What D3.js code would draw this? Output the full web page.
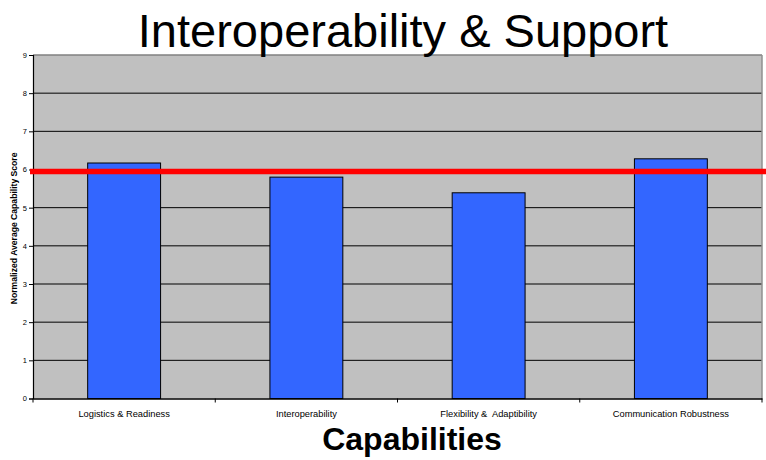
<!DOCTYPE html>
<html>
<head>
<meta charset="utf-8">
<script src="https://cdn.jsdelivr.net/npm/d3@7"></script>
<style>
  html, body { margin: 0; padding: 0; background: #ffffff; }
  svg { display: block; font-family: "Liberation Sans", Arial, Helvetica, sans-serif; }
</style>
</head>
<body>
<svg id="chart" width="766" height="460"></svg>
<script>
// Capability scores
const categories = ["Logistics & Readiness", "Interoperability", "Flexibility &  Adaptibility", "Communication Robustness"];
const scores = [6.17, 5.80, 5.39, 6.28];
const yTicks = [0, 1, 2, 3, 4, 5, 6, 7, 8, 9];
const threshold = 5.95;
const titleText = "Interoperability & Support";
const xTitle = "Capabilities";
const yTitle = "Normalized Average Capability Score";

const FONT = "'Liberation Sans', Arial, sans-serif";
const svg = d3.select("#chart");
const plot = { left: 33, right: 762, top: 55, bottom: 398.5 };

const x = d3.scaleBand().domain(categories).range([plot.left, plot.right]).padding(0);
const y = d3.scaleLinear().domain([0, 9]).range([plot.bottom, plot.top]);

// plot area background
svg.append("rect")
  .attr("x", plot.left).attr("y", plot.top)
  .attr("width", plot.right - plot.left).attr("height", plot.bottom - plot.top)
  .attr("fill", "#c0c0c0");

// horizontal gridlines
svg.append("g").selectAll("line")
  .data(yTicks.filter(d => d > 0 && d < 9))
  .join("line")
  .attr("x1", plot.left).attr("x2", plot.right)
  .attr("y1", d => y(d)).attr("y2", d => y(d))
  .attr("stroke", "#000").attr("stroke-width", 1);

// top and right frame
svg.append("line").attr("x1", plot.left).attr("x2", plot.right)
  .attr("y1", y(9)).attr("y2", y(9)).attr("stroke", "#808080").attr("stroke-width", 1.5);
svg.append("line").attr("x1", plot.right).attr("x2", plot.right)
  .attr("y1", plot.top).attr("y2", plot.bottom).attr("stroke", "#909090").attr("stroke-width", 1.5);

// bars
const barW = x.bandwidth() * 0.4;
svg.append("g").selectAll("rect")
  .data(categories)
  .join("rect")
  .attr("x", d => x(d) + (x.bandwidth() - barW) / 2)
  .attr("y", (d, i) => y(scores[i]))
  .attr("width", barW)
  .attr("height", (d, i) => y(0) - y(scores[i]))
  .attr("fill", "#3366ff")
  .attr("stroke", "#000").attr("stroke-width", 1);

// y axis
const yAxis = svg.append("g")
  .attr("transform", `translate(${plot.left},0)`)
  .call(d3.axisLeft(y).tickValues(yTicks).tickSize(4).tickPadding(2).tickFormat(d3.format("d")));
yAxis.select(".domain").attr("stroke", "#000").attr("stroke-width", 1.2);
yAxis.selectAll(".tick line").attr("stroke", "#000");
yAxis.selectAll(".tick text").attr("font-size", "7.5px").attr("fill", "#000")
  .attr("font-family", FONT);

// x axis with ticks on band boundaries
const xAxis = svg.append("g")
  .attr("transform", `translate(0,${plot.bottom})`)
  .call(d3.axisBottom(x).tickSize(0).tickPadding(12));
xAxis.select(".domain").attr("stroke", "#000").attr("stroke-width", 1.5);
xAxis.selectAll(".tick text")
  .attr("font-size", "9.3px").attr("fill", "#000")
  .attr("font-family", FONT)
  .style("white-space", "pre");
const bounds = categories.map(c => x(c)).concat([plot.right]);
svg.append("g").selectAll("line")
  .data(bounds)
  .join("line")
  .attr("x1", d => d).attr("x2", d => d)
  .attr("y1", plot.bottom).attr("y2", plot.bottom + 4)
  .attr("stroke", "#000").attr("stroke-width", 1);

// reference line
svg.append("line")
  .attr("x1", 30).attr("x2", 766)
  .attr("y1", y(threshold)).attr("y2", y(threshold))
  .attr("stroke", "#ff0000").attr("stroke-width", 5.5);

// titles
svg.append("text")
  .attr("x", 403).attr("y", 46.5)
  .attr("text-anchor", "middle")
  .attr("font-family", FONT)
  .attr("font-size", "47px").attr("fill", "#000")
  .text(titleText);

svg.append("text")
  .attr("x", 412).attr("y", 450)
  .attr("text-anchor", "middle")
  .attr("font-family", FONT)
  .attr("font-size", "32px").attr("font-weight", "bold").attr("fill", "#000")
  .text(xTitle);

svg.append("text")
  .attr("transform", "translate(16.5,228.4) rotate(-90)")
  .attr("text-anchor", "middle")
  .attr("font-family", FONT)
  .attr("font-size", "8.6px").attr("font-weight", "bold").attr("fill", "#000")
  .text(yTitle);
</script>
</body>
</html>
